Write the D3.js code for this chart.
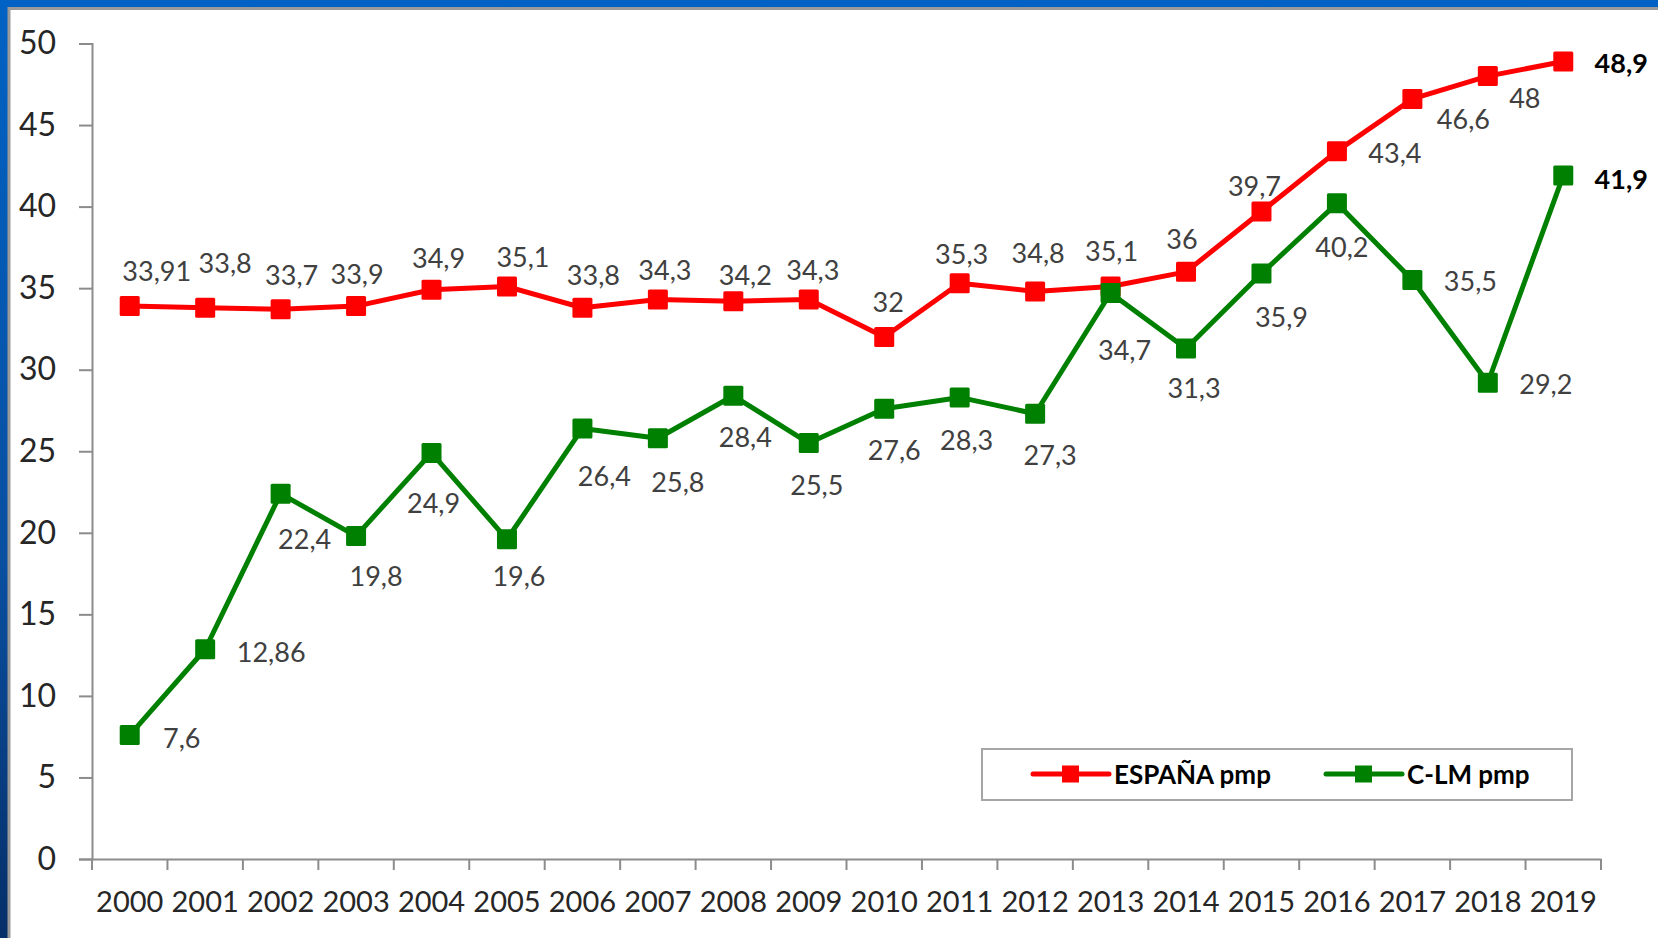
<!DOCTYPE html>
<html>
<head>
<meta charset="utf-8">
<script src="https://cdn.jsdelivr.net/npm/d3@7"></script>
<style>
  body { margin: 0; overflow: hidden; }
  svg { display: block; }
</style>
</head>
<body>
<script>
// data
const years = ['2000','2001','2002','2003','2004','2005','2006','2007','2008','2009',
  '2010','2011','2012','2013','2014','2015','2016','2017','2018','2019'];
const espana = [33.91, 33.8, 33.7, 33.9, 34.9, 35.1, 33.8, 34.3, 34.2, 34.3,
  32, 35.3, 34.8, 35.1, 36, 39.7, 43.4, 46.6, 48, 48.9];
const clm = [7.6, 12.86, 22.4, 19.8, 24.9, 19.6, 26.4, 25.8, 28.4, 25.5,
  27.6, 28.3, 27.3, 34.7, 31.3, 35.9, 40.2, 35.5, 29.2, 41.9];
const yTicks = [0, 5, 10, 15, 20, 25, 30, 35, 40, 45, 50];

// label nudges (px) so they sit where the original chart had them
const espOffsets = [[27,-35],[20,-45],[11,-35],[1,-33],[7,-32],[16,-30],[11,-33],[7,-30],[12,-27],[4,-30],
  [4,-36],[2,-30],[3,-39],[1,-36],[-4,-33],[-7,-26],[58,1],[51,20],[37,21],[58,1]];
const clmOffsets = [[52,2],[66,2],[24,45],[20,39],[2,50],[12,36],[22,47],[20,43],[12,41],[8,41],
  [10,41],[7,42],[15,41],[14,56],[8,39],[20,43],[5,43],[58,1],[58,1],[58,3]];

const W = 1658, H = 938;
const font = 'Lato, "Open Sans", sans-serif';

const svg = d3.select('body').append('svg')
  .attr('width', W).attr('height', H);

// blue frame behind the white panel
const defs = svg.append('defs');
const grad = defs.append('linearGradient').attr('id', 'bg')
  .attr('x1', 0).attr('y1', 0).attr('x2', 0).attr('y2', 1);
grad.append('stop').attr('offset', '0%').attr('stop-color', '#0062c4');
grad.append('stop').attr('offset', '60%').attr('stop-color', '#0a4fa0');
grad.append('stop').attr('offset', '100%').attr('stop-color', '#062f68');

svg.append('rect').attr('width', W).attr('height', H).attr('fill', 'url(#bg)');
svg.append('rect')
  .attr('x', 9).attr('y', 8.5).attr('width', W).attr('height', H)
  .attr('fill', '#fff').attr('stroke', '#9a9a9a').attr('stroke-width', 3);

// scales
const x = d3.scaleBand().domain(years).range([92, 1601]);
const y = d3.scaleLinear().domain([0, 50]).range([859, 43.5]);
const cx = d => x(d) + x.bandwidth() / 2;

const axisColor = '#8c8c8c';

// y axis
const yAxis = svg.append('g')
  .attr('transform', 'translate(92,0)')
  .call(d3.axisLeft(y).tickValues(yTicks).tickSize(13).tickPadding(23));
yAxis.select('.domain').attr('stroke', axisColor).attr('stroke-width', 2);
yAxis.selectAll('.tick line').attr('stroke', axisColor).attr('stroke-width', 2);
yAxis.selectAll('.tick text')
  .attr('fill', '#262626').style('font-family', font).style('font-size', '32px');

// x axis: band labels, ticks on band edges
const xAxis = svg.append('g')
  .attr('transform', 'translate(0,859)')
  .call(d3.axisBottom(x).tickSize(0).tickPadding(32));
xAxis.select('.domain').attr('stroke', axisColor).attr('stroke-width', 2);
xAxis.selectAll('.tick text')
  .attr('fill', '#262626').style('font-family', font).style('font-size', '29px');

const edges = years.map(d => x(d)).concat([x(years[years.length - 1]) + x.bandwidth()]);
svg.append('g').selectAll('line').data(edges).join('line')
  .attr('x1', d => d).attr('x2', d => d)
  .attr('y1', 859).attr('y2', 870)
  .attr('stroke', axisColor).attr('stroke-width', 2);

const fmt = v => String(v).replace('.', ',');

function drawSeries(values, color, offsets) {
  const pts = years.map((d, i) => ({ year: d, v: values[i], off: offsets[i], last: i === years.length - 1 }));
  const line = d3.line().x(d => cx(d.year)).y(d => y(d.v));

  svg.append('path').datum(pts)
    .attr('d', line)
    .attr('fill', 'none')
    .attr('stroke', color)
    .attr('stroke-width', 5)
    .attr('stroke-linejoin', 'round');

  svg.append('g').selectAll('rect').data(pts).join('rect')
    .attr('x', d => cx(d.year) - 10)
    .attr('y', d => y(d.v) - 10)
    .attr('width', 20).attr('height', 20)
    .attr('rx', 1.5)
    .attr('fill', color);

  svg.append('g').selectAll('text').data(pts).join('text')
    .attr('x', d => cx(d.year) + d.off[0])
    .attr('y', d => y(d.v) + d.off[1])
    .attr('text-anchor', 'middle')
    .attr('dominant-baseline', 'central')
    .attr('fill', d => d.last ? '#000' : '#404040')
    .style('font-family', font)
    .style('font-size', '27px')
    .style('font-weight', d => d.last ? 'bold' : 'normal')
    .text(d => fmt(d.v));
}

drawSeries(espana, '#ff0000', espOffsets);
drawSeries(clm, '#008000', clmOffsets);

// legend
const legend = svg.append('g');
legend.append('rect')
  .attr('x', 982).attr('y', 749).attr('width', 590).attr('height', 51)
  .attr('fill', '#fff').attr('stroke', '#a6a6a6').attr('stroke-width', 2);

const legendItems = [
  { name: 'ESPAÑA pmp', color: '#ff0000', x0: 1033 },
  { name: 'C-LM pmp', color: '#008000', x0: 1326 }
];
legendItems.forEach(it => {
  legend.append('line')
    .attr('x1', it.x0).attr('x2', it.x0 + 76)
    .attr('y1', 774).attr('y2', 774)
    .attr('stroke', it.color).attr('stroke-width', 5).attr('stroke-linecap', 'round');
  legend.append('rect')
    .attr('x', it.x0 + 29).attr('y', 765.5).attr('width', 17).attr('height', 17)
    .attr('fill', it.color);
  legend.append('text')
    .attr('x', it.x0 + 81).attr('y', 774)
    .attr('dominant-baseline', 'central')
    .attr('fill', '#000')
    .style('font-family', font).style('font-size', '26px').style('font-weight', 'bold')
    .text(it.name);
});
</script>
</body>
</html>
